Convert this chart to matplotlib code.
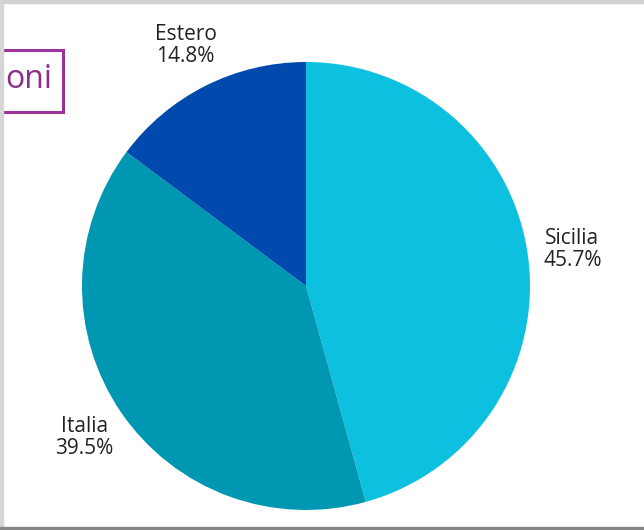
import matplotlib
matplotlib.use("Agg")
import matplotlib.pyplot as plt
from matplotlib.patches import Rectangle

plt.rcParams['font.family'] = ['Open Sans', 'DejaVu Sans']

regions = ["Sicilia", "Italia", "Estero"]
shares = [45.7, 39.5, 14.8]
colors = ["#0DC0E0", "#0097B2", "#004AAD"]
header_tail = "oni"

W, H = 644, 530
fig = plt.figure(figsize=(W / 100, H / 100), dpi=100)
fig.patch.set_facecolor("white")

# pie centred at (306, 286) px, radius 224 px
cx, cy, r = 306, 286, 224
ax = fig.add_axes([(cx - r) / W, (H - cy - r) / H, 2 * r / W, 2 * r / H])
labels = [f"{n}\n{v:.1f}%" for n, v in zip(regions, shares)]
wedges, texts = ax.pie(shares, labels=labels, colors=colors, startangle=90,
                       counterclock=False, labeldistance=1.2,
                       wedgeprops=dict(linewidth=0),
                       textprops=dict(fontsize=15, color="#222222",
                                      linespacing=1.05))
for t in texts:
    t.set_horizontalalignment("center")
    t.set_verticalalignment("center")
ax.set_xlim(-1, 1)
ax.set_ylim(-1, 1)
ax.set_aspect("equal")
ax.axis("off")

# frame bands around the slide
fig.patches.append(Rectangle((0, (H - 3) / H), 1, 3 / H, transform=fig.transFigure,
                             color="#d2d2d2", zorder=5))
fig.patches.append(Rectangle((0, 0), 3 / W, 1, transform=fig.transFigure,
                             color="#d6d6d6", zorder=5))
fig.patches.append(Rectangle((0, 0), 1, 3 / H, transform=fig.transFigure,
                             color="#868686", zorder=5))

# title box running off the left edge
fig.patches.append(Rectangle((-10 / W, (H - 112) / H), 73 / W, 62 / H,
                             transform=fig.transFigure, fill=False,
                             edgecolor="#9B3398", linewidth=2.2, zorder=4))
fig.text(5 / W, (H - 80) / H, header_tail, ha="left", va="center",
         fontsize=23, color="#8E2D8C")

fig.savefig("out.png", dpi=100)
